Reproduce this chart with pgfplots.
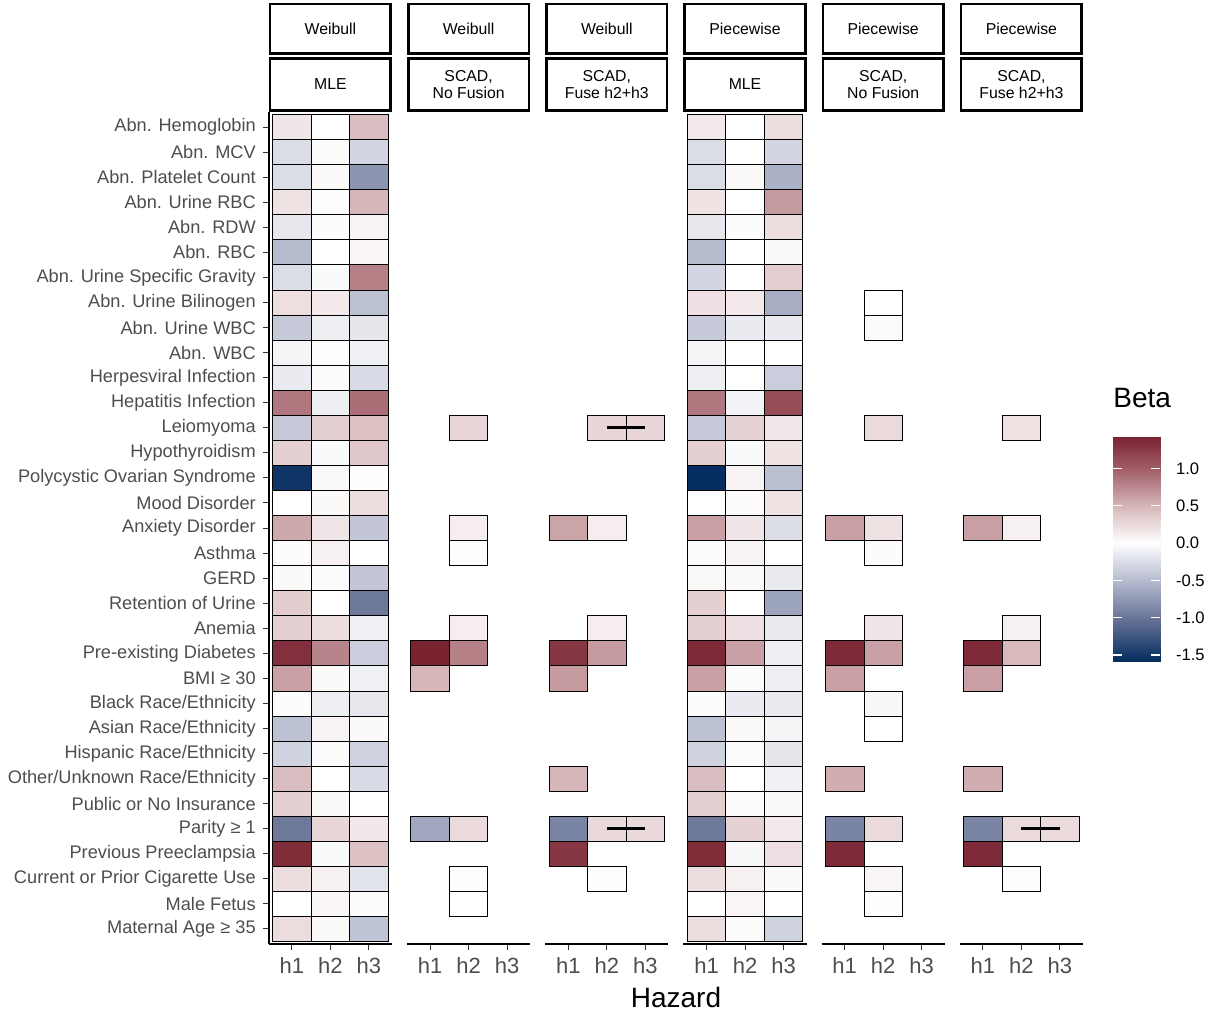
\documentclass[border=0pt]{standalone}
\usepackage{pgfplots}
\pgfplotsset{compat=1.18}
\usepackage{pgfplotstable}
\usepackage{fontspec}
\setmainfont{Liberation Sans}
\definecolor{g30}{HTML}{4D4D4D}
\definecolor{g20}{HTML}{333333}

\pgfdeclareplotmark{cell}{%
  \pgfpathrectangle{\pgfpoint{-9.625pt}{-6.265pt}}{\pgfpoint{19.25pt}{12.53pt}}%
  \pgfusepathqfillstroke}

\pgfplotsset{
 colormap={beta}{rgb255(0pt)=(5,45,95) rgb255(58pt)=(105,116,152) rgb255(108pt)=(182,187,206) rgb255(158pt)=(255,255,255) rgb255(208pt)=(214,182,185) rgb255(258pt)=(160,92,102) rgb255(300pt)=(122,36,50)},
 panel/.style={
  scale only axis, width=61.6pt, height=416pt,
  xmin=0.4, xmax=3.6, ymin=-33.6, ymax=-0.4,
  axis x line*=bottom,
  xtick={1,2,3}, xticklabels={h1,h2,h3},
  colormap name=beta, point meta min=-1.58, point meta max=1.42,
  clip=false, clip mode=individual,
  axis line style={line width=0.9pt, black, -},
  tick style={g20, line width=0.5pt},
  tick align=outside, major tick length=3pt,
  xticklabel style={font=\fontsize{11}{11}\selectfont, text=g30},
 },
 noy/.style={axis y line=none, ytick=\empty},
 cells/.style={scatter, only marks, mark=cell,
   scatter/use mapped color={draw=black, fill=mapped color},
   mark options={line width=0.4pt}},
}

\pgfplotstableread{
y h1 h2 h3
1 0.17 0.00 0.45
2 -0.25 -0.02 -0.30
3 -0.25 0.04 -0.77
4 0.20 -0.01 0.50
5 -0.17 0.02 0.08
6 -0.50 0.00 0.06
7 -0.25 -0.04 0.80
8 0.22 0.15 -0.45
9 -0.40 -0.12 -0.18
10 -0.07 -0.01 -0.10
11 -0.15 0.03 -0.27
12 0.85 -0.12 0.90
13 -0.40 0.33 0.42
14 0.33 -0.04 0.38
15 -1.52 0.05 0.01
16 0.00 0.04 0.23
17 0.58 0.18 -0.42
18 0.03 0.10 0.00
19 0.04 0.02 -0.42
20 0.35 0.00 -0.97
21 0.33 0.23 -0.10
22 1.33 0.78 -0.36
23 0.62 0.04 -0.11
24 0.02 -0.12 -0.17
25 -0.45 0.08 0.04
26 -0.33 -0.02 -0.33
27 0.45 0.00 -0.27
28 0.33 0.04 0.00
29 -0.97 0.28 0.16
30 1.36 -0.04 0.42
31 0.23 0.10 -0.20
32 0.00 0.06 0.02
33 0.24 0.04 -0.43
}\tabWmle

\pgfplotstableread{
y h1 h2 h3
1 0.15 0.00 0.23
2 -0.25 0.00 -0.30
3 -0.25 0.05 -0.58
4 0.19 0.00 0.65
5 -0.17 0.02 0.23
6 -0.50 0.00 -0.04
7 -0.30 0.00 0.34
8 0.21 0.15 -0.60
9 -0.40 -0.15 -0.15
10 -0.07 0.00 0.00
11 -0.12 0.00 -0.36
12 0.85 -0.09 1.11
13 -0.40 0.31 0.16
14 0.33 -0.04 0.19
15 -1.58 0.08 -0.47
16 0.00 0.03 0.19
17 0.62 0.17 -0.24
18 0.03 0.08 0.00
19 0.05 0.04 -0.15
20 0.33 0.00 -0.66
21 0.33 0.21 -0.15
22 1.38 0.62 -0.12
23 0.62 0.02 -0.12
24 0.02 -0.15 -0.15
25 -0.45 0.05 -0.07
26 -0.33 -0.02 -0.18
27 0.45 0.00 -0.10
28 0.33 0.03 0.04
29 -0.97 0.31 0.15
30 1.36 -0.05 0.21
31 0.23 0.10 -0.04
32 0.00 0.07 0.00
33 0.24 0.03 -0.33
}\tabPmle

\pgfplotstableread{
x y v
2 13 0.28
2 17 0.12
2 18 0.01
2 21 0.12
1 22 1.42
2 22 0.80
1 23 0.50
1 29 -0.64
2 29 0.25
2 31 0.01
2 32 0.00
}\tabWnf

\pgfplotstableread{
x y v
2 13 0.28
3 13 0.28
1 17 0.60
2 17 0.12
2 21 0.12
1 22 1.28
2 22 0.65
1 23 0.65
1 27 0.50
1 29 -0.89
2 29 0.26
3 29 0.26
1 30 1.28
2 31 0.01
}\tabWfz

\pgfplotstableread{
x y v
2 8 0.00
2 9 -0.03
2 13 0.25
1 17 0.62
2 17 0.20
2 18 0.03
2 21 0.17
1 22 1.38
2 22 0.62
1 23 0.62
2 24 -0.05
2 25 0.00
1 27 0.55
1 29 -0.89
2 29 0.25
1 30 1.38
2 31 0.06
2 32 0.01
}\tabPnf

\pgfplotstableread{
x y v
2 13 0.20
1 17 0.62
2 17 0.10
2 21 0.10
1 22 1.38
2 22 0.48
1 23 0.62
1 27 0.55
1 29 -0.89
2 29 0.25
3 29 0.25
1 30 1.38
2 31 0.01
}\tabPfz

% colour bar: triangles between the colour stops (meta = y)
\pgfplotstableread{
x y
0 -1.58
1 -1.58
1 -1.00
0 -1.58
1 -1.00
0 -1.00
0 -1.00
1 -1.00
1 -0.50
0 -1.00
1 -0.50
0 -0.50
0 -0.50
1 -0.50
1 0.00
0 -0.50
1 0.00
0 0.00
0 0.00
1 0.00
1 0.50
0 0.00
1 0.50
0 0.50
0 0.50
1 0.50
1 1.00
0 0.50
1 1.00
0 1.00
0 1.00
1 1.00
1 1.42
0 1.00
1 1.42
0 1.42
}\tabBar

\begin{document}
\begin{tikzpicture}
\useasboundingbox (0,0) rectangle (606.5pt,-507pt);

% Panel 1: Weibull MLE
\begin{axis}[panel, name=p1, at={(134.4pt,-56pt)}, anchor=north west,
  axis y line*=left,
  ytick={-33,-32,...,-1},
  yticklabels={{Maternal Age ≥ 35},{Male Fetus},{Current or Prior Cigarette Use},{Previous Preeclampsia},{Parity ≥ 1},{Public or No Insurance},{Other/Unknown Race/Ethnicity},{Hispanic Race/Ethnicity},{Asian Race/Ethnicity},{Black Race/Ethnicity},{BMI ≥ 30},{Pre-existing Diabetes},{Anemia},{Retention of Urine},{GERD},{Asthma},{Anxiety Disorder},{Mood Disorder},{Polycystic Ovarian Syndrome},{Hypothyroidism},{Leiomyoma},{Hepatitis Infection},{Herpesviral Infection},{Abn. WBC},{Abn. Urine WBC},{Abn. Urine Bilinogen},{Abn. Urine Specific Gravity},{Abn. RBC},{Abn. RDW},{Abn. Urine RBC},{Abn. Platelet Count},{Abn. MCV},{Abn. Hemoglobin}},
  yticklabel style={font=\fontsize{9.1}{9.1}\selectfont, text=g30},
]
\addplot[cells, point meta=\thisrow{h1}] table[x expr=1, y expr=-\thisrow{y}] {\tabWmle};
\addplot[cells, point meta=\thisrow{h2}] table[x expr=2, y expr=-\thisrow{y}] {\tabWmle};
\addplot[cells, point meta=\thisrow{h3}] table[x expr=3, y expr=-\thisrow{y}] {\tabWmle};
\end{axis}

% Panel 2: Weibull SCAD no fusion
\begin{axis}[panel, noy, name=p2, at={(203.5pt,-56pt)}, anchor=north west]
\addplot[cells, point meta=\thisrow{v}] table[x=x, y expr=-\thisrow{y}] {\tabWnf};
\end{axis}

% Panel 3: Weibull SCAD fuse
\begin{axis}[panel, noy, name=p3, at={(272.6pt,-56pt)}, anchor=north west]
\addplot[cells, point meta=\thisrow{v}] table[x=x, y expr=-\thisrow{y}] {\tabWfz};
\addplot[draw=black, line width=1.4pt, mark=none] coordinates {(2,-13) (3,-13)};
\addplot[draw=black, line width=1.4pt, mark=none] coordinates {(2,-29) (3,-29)};
\end{axis}

% Panel 4: Piecewise MLE
\begin{axis}[panel, noy, name=p4, at={(341.7pt,-56pt)}, anchor=north west]
\addplot[cells, point meta=\thisrow{h1}] table[x expr=1, y expr=-\thisrow{y}] {\tabPmle};
\addplot[cells, point meta=\thisrow{h2}] table[x expr=2, y expr=-\thisrow{y}] {\tabPmle};
\addplot[cells, point meta=\thisrow{h3}] table[x expr=3, y expr=-\thisrow{y}] {\tabPmle};
\end{axis}

% Panel 5: Piecewise SCAD no fusion
\begin{axis}[panel, noy, name=p5, at={(410.8pt,-56pt)}, anchor=north west]
\addplot[cells, point meta=\thisrow{v}] table[x=x, y expr=-\thisrow{y}] {\tabPnf};
\end{axis}

% Panel 6: Piecewise SCAD fuse
\begin{axis}[panel, noy, name=p6, at={(479.9pt,-56pt)}, anchor=north west]
\addplot[cells, point meta=\thisrow{v}] table[x=x, y expr=-\thisrow{y}] {\tabPfz};
\addplot[draw=black, line width=1.4pt, mark=none] coordinates {(2,-29) (3,-29)};
\end{axis}

% Colour bar legend
\begin{axis}[name=cb, at={(556.5pt,-218.5pt)}, anchor=north west,
  scale only axis, width=23.5pt, height=112pt,
  xmin=0, xmax=1, ymin=-1.58, ymax=1.42,
  colormap name=beta, point meta min=-1.58, point meta max=1.42,
  axis line style={draw=none},
  xtick=\empty,
  ytick={-1.5,-1,-0.5,0,0.5,1},
  yticklabels={-1.5,-1.0,-0.5,0.0,0.5,1.0},
  ytick pos=both, yticklabel pos=right,
  tick align=inside, major tick length=4.5pt,
  tick style={draw=white, line width=0.6pt},
  yticklabel style={font=\fontsize{8.3}{8.3}\selectfont, text=black, xshift=4.5pt},
  title=Beta,
  title style={at={(0,1)}, anchor=base west, yshift=9pt, inner sep=0pt, font=\fontsize{14}{14}\selectfont},
  axis on top,
]
\addplot[patch, shader=interp, point meta=\thisrow{y}] table[x=x, y=y] {\tabBar};
\end{axis}

% strips
\foreach \n/\a/\b in {p1/Weibull/MLE, p2/Weibull/{SCAD,\\No Fusion}, p3/Weibull/{SCAD,\\Fuse h2+h3}, p4/Piecewise/MLE, p5/Piecewise/{SCAD,\\No Fusion}, p6/Piecewise/{SCAD,\\Fuse h2+h3}}{
  \draw[line width=1.35pt, fill=white] ([xshift=0.65pt,yshift=0.75pt]\n.north west) rectangle ([xshift=-0.65pt,yshift=26.85pt]\n.north east);
  \draw[line width=1.35pt, fill=white] ([xshift=0.65pt,yshift=29.15pt]\n.north west) rectangle ([xshift=-0.65pt,yshift=54pt]\n.north east);
  \node[align=center, font=\fontsize{7.9}{8.6}\selectfont, inner sep=0pt] at ([yshift=13.8pt]\n.north) {\b};
  \node[align=center, font=\fontsize{7.9}{8.6}\selectfont, inner sep=0pt] at ([yshift=41.6pt]\n.north) {\a};
}

\node[font=\fontsize{14}{14}\selectfont] at (338pt,-498.5pt) {Hazard};
\end{tikzpicture}
\end{document}
